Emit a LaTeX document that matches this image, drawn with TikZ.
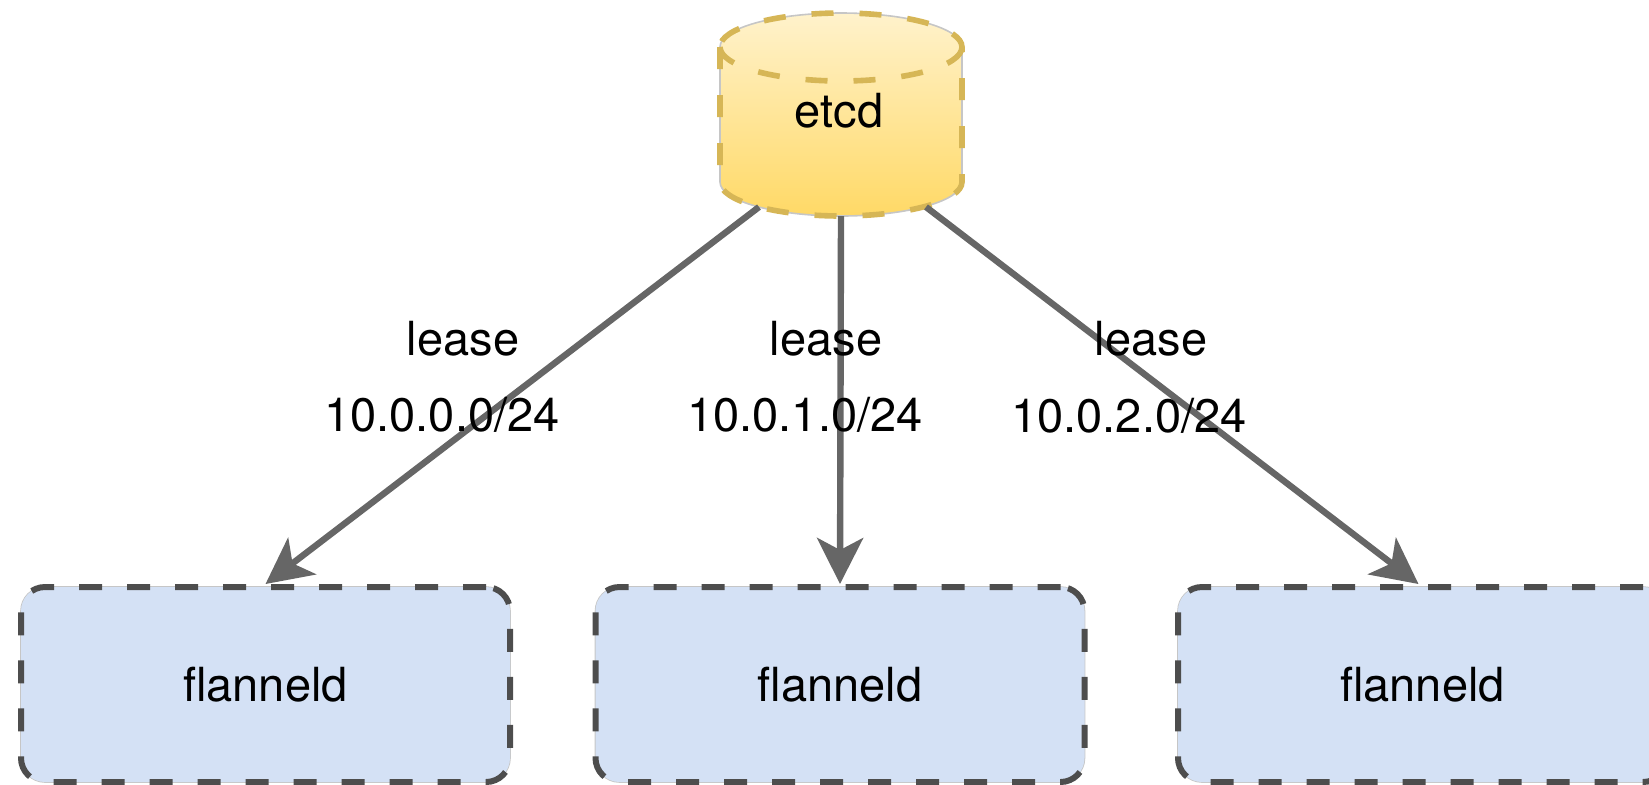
\documentclass[tikz,border=0pt]{standalone}
\usepackage{fontspec}
\setmainfont{TeX Gyre Heros}
\usetikzlibrary{arrows.meta}
\definecolor{boxfill}{HTML}{D4E1F5}
\definecolor{boxline}{HTML}{4D4D4D}
\definecolor{arrowc}{HTML}{666666}
\definecolor{cyltop}{HTML}{FFF2CC}
\definecolor{cylbot}{HTML}{FFD966}
\definecolor{cylline}{HTML}{D6B656}
\begin{document}
\begin{tikzpicture}[x=0.5pt,y=-0.5pt,
  txt/.style={font=\fontsize{23.5}{28}\selectfont},
  flbox/.style={txt, rectangle, rounded corners=12pt, fill=boxfill, draw=boxline,
    line width=3pt, dash pattern=on 11.5pt off 12.5pt,
    preaction={draw=gray!45, line width=0.8pt, solid},
    minimum width=244.5pt, minimum height=97.5pt, inner sep=0pt},
  lbl/.style={txt, anchor=base, inner sep=0pt},
  cylborder/.style={draw=cylline, line width=2.8pt, dash pattern=on 11pt off 13pt},
  conn/.style={draw=arrowc, line width=3.2pt, -{Stealth[length=23pt,width=23pt,inset=6pt]}}]
\useasboundingbox (0,0) rectangle (1649,784);
\clip (0,0) rectangle (1649,784);

% etcd cylinder
\shade[top color=cyltop, bottom color=cylbot]
  (720,47) -- (720,182) arc[start angle=180, end angle=0, x radius=121, y radius=34]
  -- (962,47) arc[start angle=0, end angle=-180, x radius=121, y radius=34] -- cycle;
\draw[gray!45, line width=0.8pt]
  (720,47) -- (720,182) arc[start angle=180, end angle=0, x radius=121, y radius=34]
  -- (962,47) arc[start angle=0, end angle=-180, x radius=121, y radius=34] -- cycle;
\draw[cylborder]
  (720,47) -- (720,182) arc[start angle=180, end angle=0, x radius=121, y radius=34]
  -- (962,47) arc[start angle=0, end angle=-180, x radius=121, y radius=34] -- cycle;
\draw[cylborder] (720,47) arc[start angle=180, end angle=0, x radius=121, y radius=34];
\node[lbl] (etcd) at (839,127) {etcd};

% flanneld boxes
\node[flbox] (f1) at (265.5,684.5) {flanneld};
\node[flbox] (f2) at (840,684.5) {flanneld};
\node[flbox] (f3) at (1422.5,684.5) {flanneld};

% arrow start points on the cylinder
\coordinate (s1) at (759,207);
\coordinate (s2) at (841,216);
\coordinate (s3) at (926,207);

\draw[conn] (s1) -- (f1.north);
\draw[conn] (s2) -- (f2.north);
\draw[conn] (s3) -- ([xshift=-2pt]f3.north);

% labels
\node[lbl] (l1) at (463,355) {lease};
\node[lbl] (a1) at (442,431) {10.0.0.0/24};
\node[lbl] (l2) at (826,355) {lease};
\node[lbl] (a2) at (805,431) {10.0.1.0/24};
\node[lbl] (l3) at (1151,355) {lease};
\node[lbl] (a3) at (1129,432) {10.0.2.0/24};
\end{tikzpicture}
\end{document}
